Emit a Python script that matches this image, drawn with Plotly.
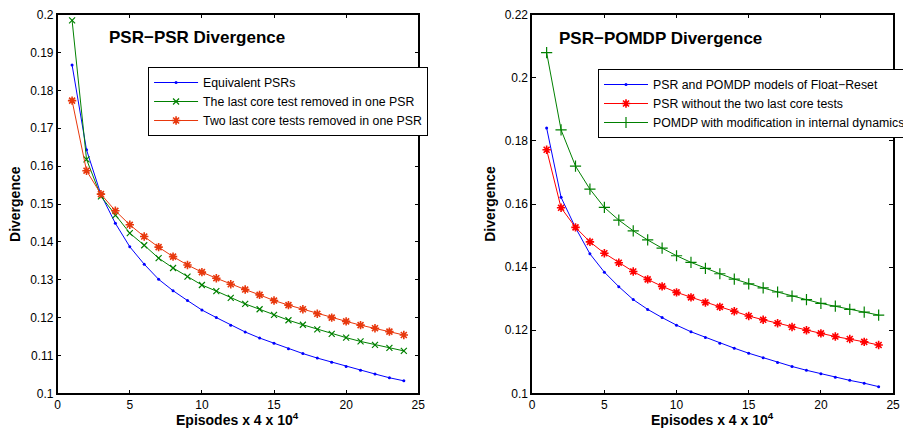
import plotly.graph_objects as go

episodes = list(range(1, 25))

# Left panel: PSR-PSR Divergence
left_equivalent = [0.1867, 0.1643, 0.1525, 0.1449, 0.1387, 0.1341, 0.1301, 0.1271, 0.1245, 0.1220,
                   0.1200, 0.1180, 0.1162, 0.1146, 0.1132, 0.1118, 0.1105, 0.1093, 0.1082, 0.1071,
                   0.1061, 0.1051, 0.1041, 0.1033]
left_one_removed = [0.1985, 0.1618, 0.1520, 0.1470, 0.1423, 0.1391, 0.1357, 0.1331, 0.1308, 0.1286,
                    0.1270, 0.1252, 0.1236, 0.1222, 0.1207, 0.1193, 0.1181, 0.1169, 0.1157, 0.1147,
                    0.1137, 0.1128, 0.1120, 0.1112]
left_two_removed = [0.1773, 0.1588, 0.1526, 0.1482, 0.1445, 0.1414, 0.1386, 0.1361, 0.1339, 0.1320,
                    0.1304, 0.1288, 0.1274, 0.1260, 0.1245, 0.1233, 0.1222, 0.1210, 0.1200, 0.1190,
                    0.1180, 0.1172, 0.1163, 0.1154]

# Right panel: PSR-POMDP Divergence
right_float_reset = [0.1841, 0.1621, 0.1525, 0.1442, 0.1384, 0.1338, 0.1297, 0.1266, 0.1240, 0.1216,
                     0.1195, 0.1177, 0.1159, 0.1143, 0.1127, 0.1113, 0.1098, 0.1085, 0.1073, 0.1062,
                     0.1051, 0.1041, 0.1032, 0.1021]
right_psr_two_removed = [0.1772, 0.1588, 0.1526, 0.1480, 0.1444, 0.1414, 0.1386, 0.1361, 0.1339, 0.1320,
                         0.1304, 0.1288, 0.1274, 0.1260, 0.1245, 0.1233, 0.1222, 0.1210, 0.1200, 0.1190,
                         0.1180, 0.1172, 0.1163, 0.1153]
right_pomdp_modified = [0.2080, 0.1835, 0.1720, 0.1647, 0.1589, 0.1549, 0.1515, 0.1486, 0.1460, 0.1436,
                        0.1415, 0.1396, 0.1379, 0.1362, 0.1347, 0.1334, 0.1321, 0.1308, 0.1297, 0.1285,
                        0.1276, 0.1266, 0.1257, 0.1248]

x_ticks = [0, 5, 10, 15, 20, 25]
left_y_ticks = [0.1, 0.11, 0.12, 0.13, 0.14, 0.15, 0.16, 0.17, 0.18, 0.19, 0.2]
left_y_labels = ["0.1", "0.11", "0.12", "0.13", "0.14", "0.15", "0.16", "0.17", "0.18", "0.19", "0.2"]
right_y_ticks = [0.1, 0.12, 0.14, 0.16, 0.18, 0.2, 0.22]
right_y_labels = ["0.1", "0.12", "0.14", "0.16", "0.18", "0.2", "0.22"]

left_names = ["Equivalent PSRs", "The last core test removed in one PSR",
              "Two last core tests removed in one PSR"]
right_names = ["PSR and POMDP models of Float\u2212Reset", "PSR without the two last core tests",
               "POMDP with modification in internal dynamics"]

BLUE = "#0000ff"
GREEN = "#008000"
ORANGE_RED = "#e8380d"
RED = "#ff0000"
FONT = "Liberation Sans, Arial, Helvetica, sans-serif"

fig = go.Figure()

# Left traces
fig.add_trace(go.Scatter(x=episodes, y=left_equivalent, name=left_names[0], mode="lines+markers",
                         line=dict(color=BLUE, width=1), marker=dict(symbol="circle", size=3, color=BLUE),
                         xaxis="x", yaxis="y", legend="legend"))
fig.add_trace(go.Scatter(x=episodes, y=left_one_removed, name=left_names[1], mode="lines+markers",
                         line=dict(color=GREEN, width=1),
                         marker=dict(symbol="x-thin-open", size=6, color=GREEN, line=dict(color=GREEN, width=1.2)),
                         xaxis="x", yaxis="y", legend="legend"))
fig.add_trace(go.Scatter(x=episodes, y=left_two_removed, name=left_names[2], mode="lines+markers",
                         line=dict(color=ORANGE_RED, width=1),
                         marker=dict(symbol="asterisk-open", size=7, color=ORANGE_RED,
                                     line=dict(color=ORANGE_RED, width=1.6)),
                         xaxis="x", yaxis="y", legend="legend"))

# Right traces
fig.add_trace(go.Scatter(x=episodes, y=right_float_reset, name=right_names[0], mode="lines+markers",
                         line=dict(color=BLUE, width=1), marker=dict(symbol="circle", size=3, color=BLUE),
                         xaxis="x2", yaxis="y2", legend="legend2"))
fig.add_trace(go.Scatter(x=episodes, y=right_psr_two_removed, name=right_names[1], mode="lines+markers",
                         line=dict(color=RED, width=1),
                         marker=dict(symbol="asterisk-open", size=7, color=RED, line=dict(color=RED, width=1.6)),
                         xaxis="x2", yaxis="y2", legend="legend2"))
fig.add_trace(go.Scatter(x=episodes, y=right_pomdp_modified, name=right_names[2], mode="lines+markers",
                         line=dict(color=GREEN, width=1),
                         marker=dict(symbol="cross-thin-open", size=8, color=GREEN, line=dict(color=GREEN, width=1.2)),
                         xaxis="x2", yaxis="y2", legend="legend2"))

# The page body has an 8px margin: the figure starts at screen (8, 8).
OFF = 8
W, H = 911 - OFF, 432 - OFF


def px(x):
    return (x - OFF) / W


def py(y):
    return 1 - (y - OFF) / H


axis_common = dict(showgrid=False, zeroline=False, showline=True, linecolor="black", linewidth=1.5,
                   mirror="ticks", ticks="inside", ticklen=4, tickcolor="black", tickwidth=1,
                   automargin=False, ticklabeloverflow="allow",
                   tickfont=dict(family=FONT, size=12, color="black"))

ydom = [py(393.3), py(14.7)]

fig.update_layout(
    width=W, height=H,
    margin=dict(l=0, r=0, t=0, b=0),
    paper_bgcolor="white", plot_bgcolor="white",
    font=dict(family=FONT, color="black"),
    xaxis=dict(domain=[px(58), px(421)], range=[0, 25], tickvals=x_ticks, ticktext=[str(v) for v in x_ticks],
               anchor="y", **axis_common),
    yaxis=dict(domain=ydom, range=[0.1, 0.2], tickvals=left_y_ticks, ticktext=left_y_labels, anchor="x",
               **axis_common),
    xaxis2=dict(domain=[px(535.7), px(899)], range=[0, 25], tickvals=x_ticks, ticktext=[str(v) for v in x_ticks],
                anchor="y2", **axis_common),
    yaxis2=dict(domain=ydom, range=[0.1, 0.22], tickvals=right_y_ticks, ticktext=right_y_labels, anchor="x2",
                **axis_common),
    legend=dict(x=px(149), y=py(67), xanchor="left", yanchor="top", bgcolor="white",
                bordercolor="black", borderwidth=1, itemwidth=44,
                font=dict(family=FONT, size=12.3, color="black"), tracegroupgap=0),
    legend2=dict(x=px(602), y=py(69), xanchor="left", yanchor="top", bgcolor="white",
                 bordercolor="black", borderwidth=1, itemwidth=44,
                 font=dict(family=FONT, size=12.3, color="black"), tracegroupgap=0),
    showlegend=True,
)

annotations = [
    dict(text="<b>PSR\u2212PSR Divergence</b>", x=px(108), y=py(37), xref="paper", yref="paper",
         xanchor="left", yanchor="middle", showarrow=False, font=dict(family=FONT, size=17)),
    dict(text="<b>PSR\u2212POMDP Divergence</b>", x=px(561), y=py(39), xref="paper", yref="paper",
         xanchor="left", yanchor="middle", showarrow=False, font=dict(family=FONT, size=17)),
    dict(text="<b>Episodes x 4 x 10<sup>4</sup></b>", x=px(239.5), y=py(419), xref="paper", yref="paper",
         xanchor="center", yanchor="middle", showarrow=False, font=dict(family=FONT, size=14)),
    dict(text="<b>Episodes x 4 x 10<sup>4</sup></b>", x=px(717.3), y=py(419), xref="paper", yref="paper",
         xanchor="center", yanchor="middle", showarrow=False, font=dict(family=FONT, size=14)),
    dict(text="<b>Divergence</b>", x=px(15), y=py(204), xref="paper", yref="paper", textangle=-90,
         xanchor="center", yanchor="middle", showarrow=False, font=dict(family=FONT, size=14)),
    dict(text="<b>Divergence</b>", x=px(493), y=py(204), xref="paper", yref="paper", textangle=-90,
         xanchor="center", yanchor="middle", showarrow=False, font=dict(family=FONT, size=14)),
]
fig.update_layout(annotations=annotations)

fig.write_html("out.html")
